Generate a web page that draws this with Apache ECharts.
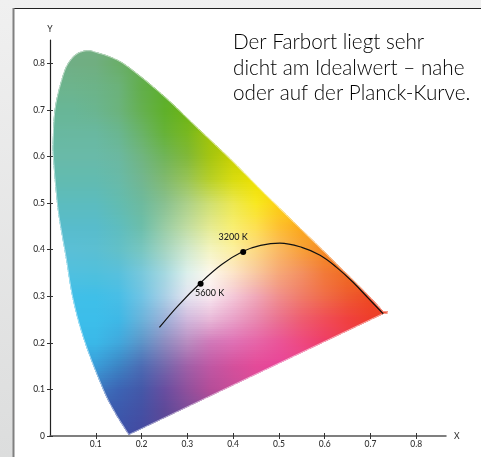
<!DOCTYPE html>
<html><head><meta charset="utf-8">
<style>html,body{margin:0;padding:0;background:#e6e6e6}#c{width:481px;height:457px}</style>
<script src="https://cdn.jsdelivr.net/npm/echarts@6/dist/echarts.min.js"></script>
</head><body><div id="c"></div>
<script>
const FONT = 'Lato';
const xTicks = [0.1,0.2,0.3,0.4,0.5,0.6,0.7,0.8];
const yTicks = [0,0.1,0.2,0.3,0.4,0.5,0.6,0.7,0.8];
const locus = [[.172,.002],[.142,.049],[.116,.099],[.076,.2],[.05,.292],[.034,.385],[.017,.485],[.007,.592],[.006,.635],[.011,.707],[.029,.778],[.044,.807],[.062,.823],[.084,.828],[.105,.823],[.135,.813],[.171,.793],[.247,.732],[.32,.664],[.393,.596],[.466,.524],[.542,.451],[.612,.384],[.692,.306],[.728,.268]];
const redTip = [[.738,.268],[.737,.263],[.728,.262]];
// colours on a 0.05 × 0.05 lattice; each row: y, index of first column, colours
const colourRows = [
 [.85,1,'#72ad82','#72ad82','#70ae7a'],
 [.80,0,'#6fb08a','#70ae84','#70ae80','#6aae68','#62ac50'],
 [.75,0,'#6cb48e','#6db48c','#6cb388','#6bb27a','#62ae4a','#5cae2e'],
 [.70,0,'#68b696','#68b696','#6ab58f','#6bb37c','#65b050','#5fb02a','#6cb414'],
 [.65,0,'#68b8a0','#69b8a0','#69b8a0','#6ab690','#6ab368','#66b238','#78b820','#a0c408'],
 [.60,0,'#69baa8','#69baa8','#69baa8','#6bb8a0','#70b580','#70b458','#80b838','#a5c510','#c8d000'],
 [.55,0,'#62bbb0','#62bbb0','#62bbb0','#68baa8','#72b690','#80b970','#98c458','#b8d028','#d8dc10','#ece000'],
 [.50,0,'#5cbcbe','#5cbcbe','#5cbcbe','#62bcb0','#6dba9e','#88c090','#acd088','#cfdf70','#ece850','#f8e820','#fcd010'],
 [.45,0,'#58bccb','#58bccb','#58bccb','#5ebdbe','#6cbeaa','#98cca4','#c0dca0','#e4ea90','#f8ee70','#fde050','#fdc030','#fba818'],
 [.40,0,'#5abfd6','#5abfd6','#5bbfd2','#62c0c8','#78c6c0','#a4d4c0','#d0e8cc','#f4f4c0','#fcf0a0','#fcd880','#fab860','#f8a038','#f58a20'],
 [.35,0,'#50c0de','#50c0de','#50c0dc','#58c0dc','#78c8dc','#a4d8e0','#dcf0ec','#fdf8ec','#fce4c8','#f8c8a0','#f6a878','#f39060','#f27a38','#f06c20'],
 [.30,0,'#40bfe8','#40bfe8','#3fbfe8','#48bee6','#70c4e4','#a8d0e6','#e4e4f0','#f8e8f0','#f4c8d8','#f0a8b8','#f08f8c','#f07c68','#f06c48','#ee5a30','#ee4a20'],
 [.25,1,'#3cbeea','#3cbeea','#3eb8e6','#6ab2da','#9cb0d8','#d0b8dc','#e8b8d8','#e8a0c8','#e888b0','#ea7090','#ee5c70','#f04c58','#f04040','#ee3c2c','#ee3c20'],
 [.20,1,'#3ab8e8','#3ab8e8','#40a8dc','#5c94c8','#8c8cc0','#b88cc0','#d078b8','#de70b4','#e664a8','#ea5498','#ee4880','#ee3c68','#ee3c50'],
 [.15,1,'#3a9cd8','#3a9cd8','#3c84c4','#4c6cb4','#7468ac','#a060a8','#c058a4','#d4509c','#e44a98','#e84498','#e84490'],
 [.10,2,'#3c78c0','#3c64b4','#4458a8','#684ea0','#90509c','#b44c98','#c84c98','#d84c98'],
 [.05,3,'#3c58ac','#4450a4','#5c4898','#7c4c98','#984c98'],
 [.00,3,'#3c50a8','#4448a0','#5c4898']
];
const colStep = 0.05, colCount = 16;
const planckX = [.239,.28,.328,.375,.421,.46,.502,.55,.59,.626,.662,.695,.728];
const planckY = [.233,.28,.328,.368,.396,.409,.414,.405,.388,.362,.33,.296,.262];
const markedX = [.329,.422];
const markedY = [.327,.395];
const markedNames = ['5600 K','3200 K'];
const noteLines = ['Der Farbort liegt sehr','dicht am Idealwert – nahe','oder auf der Planck-Kurve.'];

// ---- helpers for the gamut backdrop
function rgb(h){const n=parseInt(h.slice(1),16);return [n>>16,(n>>8)&255,n&255];}
const lattice = colourRows.map(r=>{
  const first=r[1], cols=r.slice(2).map(rgb), out=[];
  for(let i=0;i<colCount;i++){const k=Math.min(cols.length-1,Math.max(0,i-first));out.push(cols[k]);}
  return {y:r[0],cols:out};
});
function rowAt(y){
  for(let i=0;i<lattice.length-1;i++){
    const a=lattice[i],b=lattice[i+1];
    if(y<=a.y&&y>=b.y){const t=(a.y-y)/(a.y-b.y);
      return a.cols.map((c,k)=>c.map((v,j)=>Math.round(v+(b.cols[k][j]-v)*t)));}
  }
  return lattice[lattice.length-1].cols;
}
function spline(pts,n){
  const out=[];
  for(let i=0;i<pts.length-1;i++){
    const p0=pts[Math.max(0,i-1)],p1=pts[i],p2=pts[i+1],p3=pts[Math.min(pts.length-1,i+2)];
    for(let s=0;s<n;s++){const t=s/n,t2=t*t,t3=t2*t;
      out.push([0,1].map(d=>.5*(2*p1[d]+(p2[d]-p0[d])*t+(2*p0[d]-5*p1[d]+4*p2[d]-p3[d])*t2+(3*p1[d]-p0[d]-3*p2[d]+p3[d])*t3)));}
  }
  out.push(pts[pts.length-1]);return out;
}
const outline = spline(locus,8).concat(redTip,[locus[0]]);
const stripStep = 0.005;
const strips=[];for(let y=.85;y>0;y-=stripStep)strips.push(+y.toFixed(3));

const chart = echarts.init(document.getElementById('c'), null, {renderer:'canvas'});
const fmt = v => v === 0 ? '0' : String(v);
const labelStyle = {fontFamily:FONT,fontSize:8.5,fontWeight:500,color:'#333'};
chart.setOption({
 animation:false,
 graphic:[
  {type:'rect',z:-10,silent:true,shape:{x:0,y:0,width:481,height:457},style:{fill:new echarts.graphic.LinearGradient(0,0,0,1,[{offset:0,color:'#f0f0f0'},{offset:1,color:'#dcdddd'}])}},
  {type:'rect',z:-9,silent:true,shape:{x:13,y:8,width:468,height:449},style:{fill:'#ffffff'}},
  {type:'rect',z:-8,silent:true,shape:{x:13,y:8,width:468,height:1},style:{fill:'#222222'}},
  {type:'rect',z:-8,silent:true,shape:{x:12.5,y:8,width:2,height:449},style:{fill:'#808080'}},
  {type:'text',z:20,silent:true,left:233,top:30,style:{text:noteLines.join('\n'),fontFamily:FONT,fontSize:20.7,fontWeight:300,lineHeight:25.5,fill:'#000'}}
 ],
 grid:{left:50,top:40,width:396,height:396},
 xAxis:[
  {type:'value',min:0,max:.865,splitLine:{show:false},name:'X',nameLocation:'end',nameGap:8,nameTextStyle:labelStyle,
   axisLine:{lineStyle:{color:'#555',width:1.5}},
   axisTick:{length:3,customValues:xTicks,lineStyle:{color:'#333'}},
   axisLabel:{...labelStyle,margin:4,customValues:xTicks,formatter:fmt}},
  {type:'value',min:0,max:.865,position:'bottom',splitLine:{show:false},axisLine:{show:false},axisLabel:{show:false},
   axisTick:{inside:true,length:3,customValues:xTicks,lineStyle:{color:'#333'}}}
 ],
 yAxis:[
  {type:'value',min:0,max:.85,splitLine:{show:false},name:'Y',nameLocation:'end',nameGap:6,nameTextStyle:labelStyle,
   axisLine:{lineStyle:{color:'#222',width:1.2}},
   axisTick:{length:3,customValues:yTicks,lineStyle:{color:'#333'}},
   axisLabel:{...labelStyle,margin:5,customValues:yTicks,formatter:fmt}},
  {type:'value',min:0,max:.85,position:'left',splitLine:{show:false},axisLine:{show:false},axisLabel:{show:false},
   axisTick:{inside:true,length:3,customValues:yTicks,lineStyle:{color:'#333'}}}
 ],
 series:[
  {type:'custom',coordinateSystem:'cartesian2d',clip:false,z:1,silent:true,data:[0],
   renderItem:(p,api)=>{
     const pts=outline.map(q=>api.coord(q));
     const x0=api.coord([0,0])[0], x1=api.coord([colStep*(colCount-1),0])[0];
     const children=strips.map(y=>{
       const top=Math.round(api.coord([0,y])[1]), bot=Math.round(api.coord([0,y-stripStep])[1]);
       const row=rowAt(y-stripStep/2);
       return {type:'rect',shape:{x:x0,y:top,width:x1-x0,height:bot-top+2},
         style:{fill:new echarts.graphic.LinearGradient(x0,0,x1,0,row.map((c,i)=>({offset:i/(colCount-1),color:`rgb(${c[0]},${c[1]},${c[2]})`})),true)}};
     });
     children.push({type:'polygon',shape:{points:pts},style:{fill:'none',stroke:'rgba(255,255,255,0.55)',lineWidth:1.8}});
     return {type:'group',clipPath:{type:'polygon',shape:{points:pts}},children};
   }},
  {type:'line',z:4,data:planckX.map((x,i)=>[x,planckY[i]]),smooth:.4,showSymbol:false,silent:true,lineStyle:{color:'#111',width:1.2}},
  {type:'scatter',z:5,silent:true,data:markedX.map((x,i)=>[x,markedY[i],markedNames[i]]),symbolSize:6,itemStyle:{color:'#000',opacity:1},
   label:{show:true,...labelStyle,color:'#222',fontSize:9,formatter:p=>p.data[2],position:'bottom'},
   labelLayout:p=>p.dataIndex===1?{dy:-27,dx:-10}:{dy:-3,dx:9}}
 ]
});
</script></body></html>
